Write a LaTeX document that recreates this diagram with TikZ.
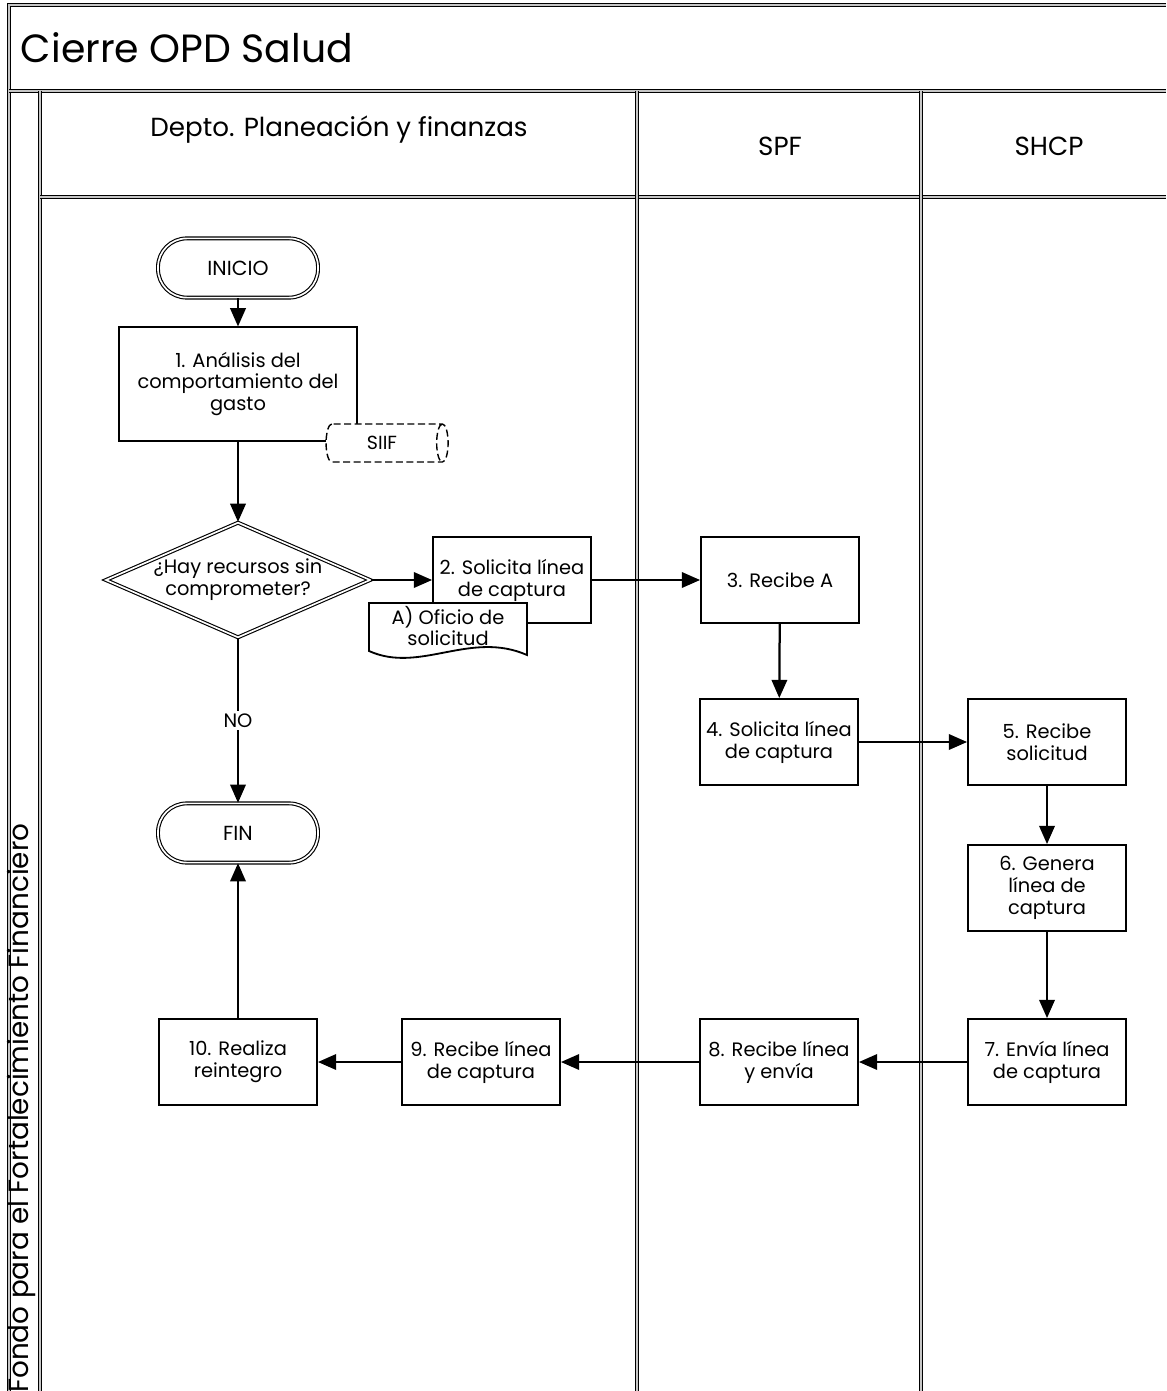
\documentclass[tikz,border=0pt]{standalone}
\usepackage{fontspec}
\setmainfont{Poppins}
\usetikzlibrary{arrows.meta,shapes.geometric}

\begin{document}
\begin{tikzpicture}[x=0.025cm,y=-0.025cm,
 carril/.style={double=gray!45,double distance=1.1pt,line width=0.9pt},
 paso/.style={draw,line width=1.3pt,fill=white,align=center,inner sep=1pt,
  font=\fontsize{13.8}{15.6}\selectfont,minimum width=3.95cm,minimum height=2.15cm},
 terminal/.style={draw,double,double distance=1.2pt,line width=0.8pt,fill=white,
  rounded corners=0.72cm,minimum width=4cm,minimum height=1.48cm,font=\fontsize{14.5}{16}\selectfont},
 flecha/.style={line width=1.6pt,-{Triangle[length=13pt,width=11pt]}}]
 \useasboundingbox (0,0) rectangle (1166,1391);

 % marco y carriles
 \draw[carril] (1166,5) -- (9,5) -- (9,1391); %borde exterior
 \draw[carril] (9,91) -- (1166,91); %bajo el titulo
 \draw[carril] (40,91) -- (40,1391); %franja izquierda
 \draw[carril] (40,197) -- (1166,197); %bajo los encabezados
 \draw[carril] (637,91) -- (637,1391); %SPF
 \draw[carril] (921,91) -- (921,1391); %SHCP

 \node[anchor=west,font=\fontsize{28}{32}\selectfont] (titulo) at (16,48) {Cierre OPD Salud};
 \node[font=\fontsize{18.6}{22}\selectfont] (depto) at (339,130) {Depto. Planeación y finanzas};
 \node[font=\fontsize{18.6}{22}\selectfont] (spf) at (780,146) {SPF};
 \node[font=\fontsize{18.6}{22}\selectfont] (shcp) at (1049,146) {SHCP};
 \node[rotate=90,anchor=west,inner sep=0pt,font=\fontsize{19.8}{22}\selectfont] (fondo) at (22,1393) {Fondo para el Fortalecimiento Financiero};

 % pasos
 \node[terminal] (inicio) at (238,268) {INICIO};
 \node[paso,minimum width=5.95cm,minimum height=2.83cm] (p1) at (238,384) {1. Análisis del\\comportamiento del\\gasto};
 \node[cylinder,draw,dash pattern=on 5pt off 2.5pt,line width=1pt,fill=white,aspect=0.5,
  minimum height=3.05cm,minimum width=0.95cm,font=\fontsize{13.5}{15}\selectfont] (siif) at (382,443) {SIIF};
 \node[diamond,draw,double,double distance=1.2pt,line width=0.8pt,fill=white,aspect=2.3,inner sep=0pt,
  minimum width=6.6cm,minimum height=2.85cm,align=center,font=\fontsize{13.8}{15.6}\selectfont] (dec) at (238,580) {¿Hay recursos sin\\comprometer?};
 \node[paso] (p2) at (512,580) {2. Solicita línea\\de captura};
 \draw[line width=1.3pt,fill=white] (369,603) -- (527,603) -- (527,655)
  .. controls (470,630) and (420,674) .. (369,651) -- cycle; %documento
 \node[align=center,font=\fontsize{13.8}{15.6}\selectfont] (docA) at (448,626) {A) Oficio de\\solicitud};
 \node[paso] (p3) at (780,580) {3. Recibe A};
 \node[paso] (p4) at (779,742) {4. Solicita línea\\de captura};
 \node[paso] (p5) at (1047,742) {5. Recibe\\solicitud};
 \node[paso] (p6) at (1047,888) {6. Genera\\línea de\\captura};
 \node[paso] (p7) at (1047,1062) {7. Envía línea\\de captura};
 \node[paso] (p8) at (779,1062) {8. Recibe línea\\y envía};
 \node[paso] (p9) at (481,1062) {9. Recibe línea\\de captura};
 \node[paso] (p10) at (238,1062) {10. Realiza\\reintegro};
 \node[terminal] (fin) at (238,833) {FIN};

 % flechas
 \draw[flecha] (inicio) -- (p1);
 \draw[flecha] (p1) -- (dec);
 \draw[flecha] (dec) -- (p2);
 \draw[flecha] (p2) -- (p3);
 \draw[flecha] (p3) -- (p4);
 \draw[flecha] (p4) -- (p5);
 \draw[flecha] (p5) -- (p6);
 \draw[flecha] (p6) -- (p7);
 \draw[flecha] (p7) -- (p8);
 \draw[flecha] (p8) -- (p9);
 \draw[flecha] (p9) -- (p10);
 \draw[flecha] (p10) -- (fin);
 \draw[flecha] (dec) -- node[fill=white,inner sep=2pt,font=\fontsize{13.8}{15}\selectfont] (no) {NO} (fin);
\end{tikzpicture}
\end{document}
